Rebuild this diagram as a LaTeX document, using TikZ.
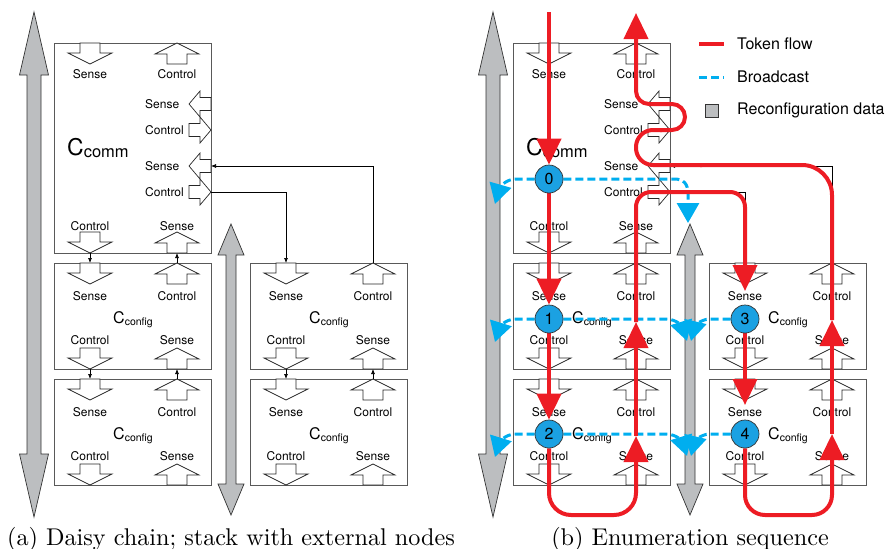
\documentclass[tikz,border=0pt]{standalone}
\usepackage{fontspec}
\usepackage{graphicx}
\usetikzlibrary{arrows.meta}
\newfontfamily\hv{TeX Gyre Heros}
\definecolor{tokred}{HTML}{ED1C24}
\definecolor{bcast}{HTML}{00AEEF}
\definecolor{cfill}{HTML}{1BA1E2}
\definecolor{rgray}{HTML}{BCBEC0}
\tikzset{
 blk/.style={draw=black!85, fill=white, line width=0.7pt, line join=miter},
 boxst/.style={draw=black!65, line width=1pt, inner sep=0pt, outer sep=0pt},
 lbl/.style={font=\hv\fontsize{12}{12}\selectfont, inner sep=0pt},
 gfill/.style={draw=black!80, fill=rgray, line width=0.7pt},
 conn/.style={draw=black, line width=0.7pt},
 tipS/.style={-{Latex[length=5pt,width=4pt]}},
 tok/.style={draw=tokred, line width=4pt},
 tokarr/.style={-{Triangle[length=26pt,width=24pt]}},
 bc/.style={draw=bcast, line width=3pt, dash pattern=on 8pt off 4pt},
 bcarr/.style={-{Triangle[length=20pt,width=22pt]}},
 circ/.style={circle, draw=black!80, line width=0.7pt, fill=cfill, minimum size=28pt, inner sep=0pt, font=\hv\fontsize{16}{16}\selectfont},
}
\newcommand\dbl[7]{%
 \draw[gfill] (#2,#3) -- (#2+#6,#3+#5) -- (#2+#7,#3+#5) -- (#2+#7,#4-#5) -- (#2+#6,#4-#5) -- (#2,#4) -- (#2-#6,#4-#5) -- (#2-#7,#4-#5) -- (#2-#7,#3+#5) -- (#2-#6,#3+#5) -- cycle;
 \coordinate (#1) at (#2,#3);}
\newcommand\bdown[3]{%
 \draw[blk] (#2-10,#3) -- (#2+10,#3) -- (#2+10,#3+10) -- (#2+22,#3+10) -- (#2,#3+21) -- (#2-22,#3+10) -- (#2-10,#3+10) -- cycle;
 \coordinate (#1-in) at (#2,#3); \coordinate (#1-out) at (#2,#3+21);}
\newcommand\bup[3]{%
 \draw[blk] (#2,#3) -- (#2+22,#3+11) -- (#2+10,#3+11) -- (#2+10,#3+21) -- (#2-10,#3+21) -- (#2-10,#3+11) -- (#2-22,#3+11) -- cycle;
 \coordinate (#1-out) at (#2,#3); \coordinate (#1-in) at (#2,#3+21);}
\newcommand\hleft[3]{%
 \draw[blk] (#2,#3) -- (#2+11,#3-13) -- (#2+11,#3-6.5) -- (#2+22,#3-6.5) -- (#2+22,#3+6.5) -- (#2+11,#3+6.5) -- (#2+11,#3+13) -- cycle;
 \coordinate (#1) at (#2+22,#3);}
\newcommand\hright[3]{%
 \draw[blk] (#2,#3-6.5) -- (#2+11,#3-6.5) -- (#2+11,#3-13) -- (#2+22,#3) -- (#2+11,#3+13) -- (#2+11,#3+6.5) -- (#2,#3+6.5) -- cycle;
 \coordinate (#1) at (#2+22,#3);}
\newcommand\cfgbox[3]{%
 \node[boxst, minimum width=157pt, minimum height=106pt, anchor=north west] (#1) at (#2,#3) {};
 \bdown{#1-ti}{#2+36}{#3}
 \bup{#1-to}{#2+123}{#3}
 \node[lbl] (#1-l1) at (#2+36,#3+33) {Sense};
 \node[lbl] (#1-l2) at (#2+123,#3+33) {Control};
 \node[anchor=base, inner sep=0pt, font=\hv] (#1-t) at (#2+79,#3+60) {\fontsize{16}{16}\selectfont C\raisebox{-2.5pt}{\fontsize{10.5}{10.5}\selectfont config}};
 \node[lbl] (#1-l3) at (#2+36,#3+77) {Control};
 \node[lbl] (#1-l4) at (#2+123,#3+77) {Sense};
 \bdown{#1-bo}{#2+36}{#3+85}
 \bup{#1-bi}{#2+123}{#3+85}}
\newcommand\panel[1]{%
 \dbl{gl#1}{34}{12}{517}{63}{14.5}{7}
 \dbl{gm#1}{231}{224}{515}{31}{13}{5}
 \node[boxst, minimum width=157pt, minimum height=210pt, anchor=north west] (cc#1) at (54,43) {};
 \bdown{cc#1-ti}{90}{43}
 \bup{cc#1-to}{177}{43}
 \node[lbl] (cc#1-l1) at (90,74) {Sense};
 \node[lbl] (cc#1-l2) at (177,74) {Control};
 \hleft{cc#1-s1}{189}{104}
 \hright{cc#1-c1}{189}{130}
 \hleft{cc#1-s2}{189}{166}
 \hright{cc#1-c2}{189}{192}
 \node[lbl, anchor=west] (cc#1-l5) at (145,104) {Sense};
 \node[lbl, anchor=west] (cc#1-l6) at (145,130) {Control};
 \node[lbl, anchor=west] (cc#1-l7) at (145,166) {Sense};
 \node[lbl, anchor=west] (cc#1-l8) at (145,192) {Control};
 \node[anchor=base west, inner sep=0pt, font=\hv] (cc#1-t) at (67,155) {\fontsize{23}{23}\selectfont C\raisebox{-2pt}{\fontsize{16.5}{16.5}\selectfont comm}};
 \node[lbl] (cc#1-l3) at (90,226) {Control};
 \node[lbl] (cc#1-l4) at (177,226) {Sense};
 \bdown{cc#1-bo}{90}{232}
 \bup{cc#1-bi}{177}{232}
 \cfgbox{cf1#1}{54}{263}
 \cfgbox{cf2#1}{54}{379}
 \cfgbox{ex1#1}{250}{263}
 \cfgbox{ex2#1}{250}{379}
 \draw[conn,tipS] (cc#1-bo-out) -- (cf1#1-ti-in);
 \draw[conn,tipS] (cf1#1-to-out) -- (cc#1-bi-in);
 \draw[conn,tipS] (cf1#1-bo-out) -- (cf2#1-ti-in);
 \draw[conn,tipS] (cf2#1-to-out) -- (cf1#1-bi-in);
 \draw[conn,tipS] (ex1#1-bo-out) -- (ex2#1-ti-in);
 \draw[conn,tipS] (ex2#1-to-out) -- (ex1#1-bi-in);
 \draw[conn,tipS] (ex1#1-to-out) |- (cc#1-s2);
 \draw[conn,tipS] (cc#1-c2) -| (ex1#1-ti-in);}
\begin{document}
\begin{tikzpicture}[x=1pt,y=-1pt]
\useasboundingbox (0,0) rectangle (892,549);
\panel{A}
\begin{scope}[xshift=459pt]
\panel{B}
\end{scope}
% captions
\node[anchor=base, scale=2.42, inner sep=0pt] (capA) at (231,545) {(a) Daisy chain; stack with external nodes};
\node[anchor=base, scale=2.42, inner sep=0pt] (capB) at (690,545) {(b) Enumeration sequence};
% legend
\coordinate (lg1a) at (699,44); \coordinate (lg1b) at (724,44);
\coordinate (lg2a) at (699,77); \coordinate (lg2b) at (724,77);
\draw[tok] (lg1a) -- (lg1b);
\draw[bc] (lg2a) -- (lg2b);
\node[draw=black!80, line width=0.7pt, fill=rgray, minimum size=13pt, inner sep=0pt] (lsq) at (711.5,110.5) {};
\node[anchor=west, inner sep=0pt, font=\hv\fontsize{16}{16}\selectfont] (lt1) at (737,44) {Token flow};
\node[anchor=west, inner sep=0pt, font=\hv\fontsize{16}{16}\selectfont] (lt2) at (737,77) {Broadcast};
\node[anchor=west, inner sep=0pt, font=\hv\fontsize{16}{16}\selectfont] (lt3) at (737,110) {Reconfiguration data};
% circle positions (circles drawn last)
\coordinate (p0) at (549,179);
\coordinate (p1) at (549,319);
\coordinate (p2) at (549,434);
\coordinate (p3) at (745,319);
\coordinate (p4) at (745,434);
\path (p0) node[circ, draw=none, fill=none] (n0) {\phantom{0}};
\path (p1) node[circ, draw=none, fill=none] (n1) {\phantom{1}};
\path (p2) node[circ, draw=none, fill=none] (n2) {\phantom{2}};
\path (p3) node[circ, draw=none, fill=none] (n3) {\phantom{3}};
\path (p4) node[circ, draw=none, fill=none] (n4) {\phantom{4}};
% broadcast
\draw[bc,bcarr] (n0.west) -- (516,179) .. controls (504,179) and (499,190) .. (495,204);
\draw[bc,bcarr] (n0.east) -- (674,179) .. controls (684,179) and (688,184) .. (688,194) -- (688,223);
\draw[bc,bcarr] (n1.west) -- (516,319) .. controls (504,319) and (499,329) .. (495,342);
\draw[bc,bcarr] (n1.east) -- (666,319) .. controls (677,319) and (683,328) .. (687,341);
\draw[bc,bcarr] (n3.west) -- (710,319) .. controls (700,319) and (694,328) .. (691,341);
\draw[bc,bcarr] (n2.west) -- (516,434) .. controls (504,434) and (499,444) .. (495,457);
\draw[bc,bcarr] (n2.east) -- (666,434) .. controls (677,434) and (683,443) .. (687,456);
\draw[bc,bcarr] (n4.west) -- (710,434) .. controls (700,434) and (694,443) .. (691,456);
% token flow
\coordinate (ts) at (549,12);
\coordinate (tA) at (636,436);
\coordinate (tB) at (636,322);
\coordinate (tC) at (745,291);
\coordinate (tD) at (745,405);
\coordinate (tE) at (832,434);
\coordinate (tF) at (832,320);
\coordinate (tG) at (636,13);
\draw[tok,tokarr] (ts) -- (n0.north);
\draw[tok,tokarr] (n0.south) -- (n1.north);
\draw[tok,tokarr] (n1.south) -- (n2.north);
\draw[tok,tokarr,rounded corners=22pt] (n2.south) -- (549,515) -- (636,515) -- (tA);
\draw[tok,tokarr] (tA) -- (tB);
\draw[tok,tokarr,rounded corners=15pt] (tB) -- (636,192) -- (745,192) -- (tC);
\draw[tok,tokarr] (n3.south) -- (tD);
\draw[tok,tokarr,rounded corners=20pt] (n4.south) -- (745,515) -- (832,515) -- (tE);
\draw[tok,tokarr] (tE) -- (tF);
\draw[tok,rounded corners=30pt] (tF) -- (832,165) -- (700,165);
\draw[tok,rounded corners=17pt] (702,165) -- (636,165) -- (636,130) -- (662,130);
\draw[tok,tokarr,rounded corners=13pt] (660,130) -- (685,130) -- (685,104) -- (636,104) -- (tG);
% circles
\node[circ] (c0) at (p0) {0};
\node[circ] (c1) at (p1) {1};
\node[circ] (c2) at (p2) {2};
\node[circ] (c3) at (p3) {3};
\node[circ] (c4) at (p4) {4};
\end{tikzpicture}
\end{document}
